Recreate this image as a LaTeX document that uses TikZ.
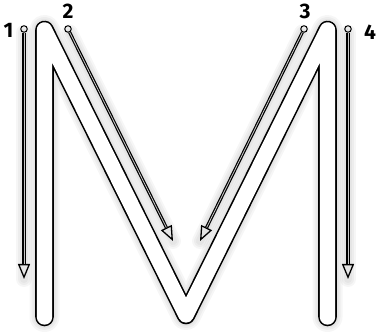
\documentclass[tikz,border=0pt]{standalone}
\usepackage{fontspec}
\setmainfont{Fira Sans}
\usetikzlibrary{arrows.meta}
\tikzset{
  glow/.style={preaction={draw=black, opacity=0.035, line width=#1+12pt, line join=round, line cap=round, -},
               preaction={draw=black, opacity=0.035, line width=#1+8pt, line join=round, line cap=round, -},
               preaction={draw=black, opacity=0.035, line width=#1+4pt, line join=round, line cap=round, -}},
  letter/.style={glow=18pt, line width=1.6pt, double=white, double distance=15.4pt, line join=round, line cap=round},
  start/.style={circle, draw, fill=white, line width=1pt, inner sep=0pt, minimum size=6.5pt},
  trace/.style={glow=4pt, line width=3.2pt, -{Triangle[open, length=15pt, width=12pt, line width=1.3pt]},
                postaction={draw=gray!45, line width=0.8pt, shorten >=15pt, -}},
  num/.style={font=\fontsize{21}{21}\selectfont\bfseries}
}
\begin{document}
\begin{tikzpicture}[x=1pt, y=-1pt]
	\useasboundingbox (0,0) rectangle (377,336);
	\draw[letter] (44.5,317) -- (44.5,30) -- (186,315) -- (327.5,30) -- (327.5,317);
	
	\node[start] (s1) at (24,29) {};
	\node[start] (s2) at (68,29) {};
	\node[start] (s3) at (304,29) {};
	\node[start] (s4) at (348,29) {};
	\coordinate (e1) at (24,279);
	\coordinate (e2) at (173,241);
	\coordinate (e3) at (200,241);
	\coordinate (e4) at (348,279);
	\draw[trace] (s1) -- (e1);
	\draw[trace] (s2) -- (e2);
	\draw[trace] (s3) -- (e3);
	\draw[trace] (s4) -- (e4);
	
	\node[num] (n1) at (8.5,30) {1};
	\node[num] (n2) at (68,11) {2};
	\node[num] (n3) at (305,11) {3};
	\node[num] (n4) at (370,32) {4};
\end{tikzpicture}
\end{document}
